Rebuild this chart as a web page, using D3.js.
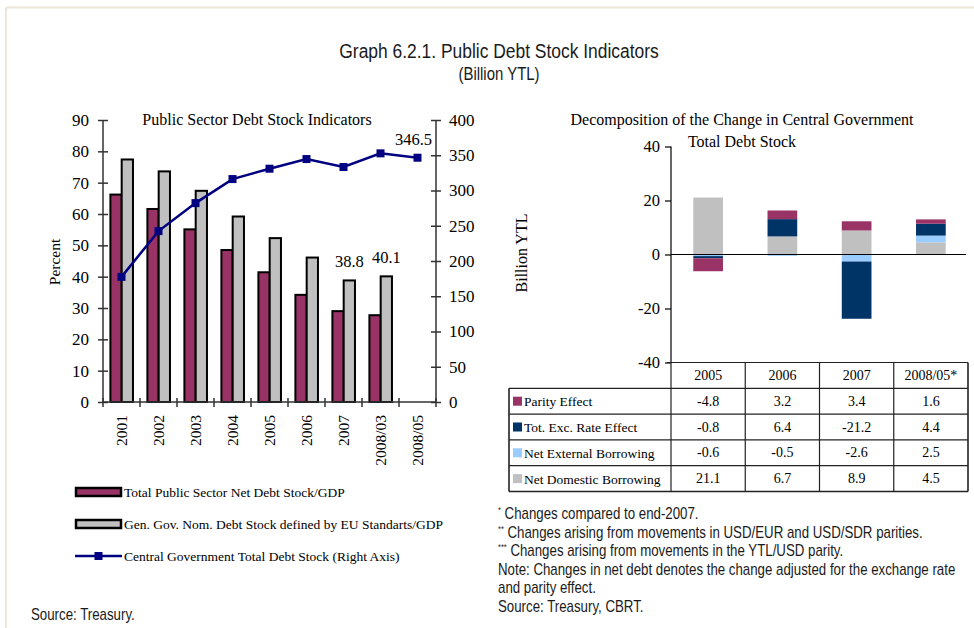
<!DOCTYPE html>
<html>
<head>
<meta charset="utf-8">
<script src="https://cdn.jsdelivr.net/npm/d3@7"></script>
<style>
  html, body { margin: 0; padding: 0; background: #fff; }
  svg { display: block; }
  .serif { font-family: "Liberation Serif", "Times New Roman", serif; fill: #000; }
  .sans { font-family: "Liberation Sans", Arial, sans-serif; fill: #1a1a1a; }
</style>
</head>
<body>
<svg id="chart" width="974" height="628"></svg>
<script>
// ---- Left panel: public sector debt stock indicators ----
const years = ["2001", "2002", "2003", "2004", "2005", "2006", "2007", "2008/03", "2008/05"];
const netDebtGdp = [66.2, 61.6, 55.1, 48.5, 41.4, 34.2, 29.0, 27.7, null];
const euDebtGdp = [77.4, 73.6, 67.4, 59.2, 52.3, 46.1, 38.8, 40.1, null];
const centralDebt = [177.5, 242.4, 282.1, 316.2, 330.9, 344.6, 333.3, 352.7, 346.5];
const percentTicks = [0, 10, 20, 30, 40, 50, 60, 70, 80, 90];
const ytlTicks = [0, 50, 100, 150, 200, 250, 300, 350, 400];
const leftLegend = [
  "Total Public Sector Net Debt Stock/GDP",
  "Gen. Gov. Nom. Debt Stock defined by EU Standarts/GDP",
  "Central Government Total Debt Stock (Right Axis)"
];

// ---- Right panel: decomposition of the change in central government debt ----
const periods = ["2005", "2006", "2007", "2008/05*"];
const seriesNames = ["Parity Effect", "Tot. Exc. Rate Effect", "Net External Borrowing", "Net Domestic Borrowing"];
const parityEffect = [-4.8, 3.2, 3.4, 1.6];
const excRateEffect = [-0.8, 6.4, -21.2, 4.4];
const netExternal = [-0.6, -0.5, -2.6, 2.5];
const netDomestic = [21.1, 6.7, 8.9, 4.5];
const changeTicks = [-40, -20, 0, 20, 40];

const notes = [
  ["*", " Changes compared to end-2007."],
  ["**", " Changes arising from movements in USD/EUR and USD/SDR parities."],
  ["***", " Changes arising from movements in the YTL/USD parity."],
  ["", "Note: Changes in net debt denotes the change adjusted for the exchange rate"],
  ["", "and parity effect."],
  ["", "Source: Treasury, CBRT."]
];

const colors = {
  maroon: "#993366",
  gray: "#c0c0c0",
  navy: "#000080",
  darkBlue: "#003366",
  lightBlue: "#99ccff"
};

const svg = d3.select("#chart");
const NARROW = 0.83; // horizontal squeeze for the condensed sans captions

// condensed sans text placed at (x, y)
function narrowText(parent, x, y, size, anchor) {
  return parent.append("text").attr("class", "sans")
    .attr("transform", `translate(${x},${y}) scale(${NARROW},1)`)
    .attr("text-anchor", anchor || "start")
    .style("font-size", size + "px");
}

// page frame
svg.append("line").attr("x1", 6).attr("x2", 974).attr("y1", 7.5).attr("y2", 7.5)
  .attr("stroke", "#ebe6d8").attr("stroke-width", 2);
svg.append("line").attr("x1", 6).attr("x2", 6).attr("y1", 7.5).attr("y2", 628)
  .attr("stroke", "#ebe6d8").attr("stroke-width", 2);

// headings
narrowText(svg, 499, 58, 21, "middle").text("Graph 6.2.1. Public Debt Stock Indicators");
narrowText(svg, 499, 80, 18, "middle").text("(Billion YTL)");

// =================== LEFT PANEL ===================
const L = { left: 103, right: 436, top: 120, bottom: 402 };
const xL = d3.scaleBand().domain(years).range([L.left, L.right]);
const xSub = d3.scaleBand().domain(["net", "eu"])
  .range([xL.bandwidth() * 0.2, xL.bandwidth() * 0.81]);
const yPct = d3.scaleLinear().domain([0, 90]).range([L.bottom, L.top]);
const yYtl = d3.scaleLinear().domain([0, 400]).range([L.bottom, L.top]);

const gL = svg.append("g");

gL.append("text").attr("class", "serif").attr("x", 257).attr("y", 125)
  .attr("text-anchor", "middle").style("font-size", "16px")
  .text("Public Sector Debt Stock Indicators");

// bars
const barData = years.map((y, i) => ({ year: y, net: netDebtGdp[i], eu: euDebtGdp[i] }));
const barGroups = gL.selectAll("g.bar").data(barData).join("g")
  .attr("class", "bar").attr("transform", d => `translate(${xL(d.year)},0)`);
barGroups.each(function (d) {
  const g = d3.select(this);
  [["net", colors.maroon], ["eu", colors.gray]].forEach(([k, c]) => {
    if (d[k] == null) return;
    g.append("rect")
      .attr("x", xSub(k)).attr("width", xSub.bandwidth())
      .attr("y", yPct(d[k])).attr("height", yPct(0) - yPct(d[k]))
      .attr("fill", c).attr("stroke", "#000").attr("stroke-width", 2);
  });
});

// value labels on the last two EU bars
[6, 7].forEach(i => {
  gL.append("text").attr("class", "serif")
    .attr("x", xL(years[i]) + xSub("eu") + xSub.bandwidth() / 2)
    .attr("y", yPct(euDebtGdp[i]) - 13)
    .attr("text-anchor", "middle").style("font-size", "16.5px")
    .text(euDebtGdp[i].toFixed(1));
});

// left axis
const axL = gL.append("g").attr("transform", `translate(${L.left},0)`)
  .call(d3.axisLeft(yPct).tickValues(percentTicks).tickFormat(d => String(d)).tickSize(5).tickPadding(9));
axL.select(".domain").remove();
axL.append("line").attr("y1", L.top).attr("y2", L.bottom).attr("stroke", "#333").attr("stroke-width", 1.5);
axL.selectAll(".tick line").attr("x1", 5).attr("stroke", "#333").attr("stroke-width", 1.5);
axL.selectAll(".tick text").attr("class", "serif").style("font-size", "17px").attr("font-family", null);

// right axis
const axR = gL.append("g").attr("transform", `translate(${L.right},0)`)
  .call(d3.axisRight(yYtl).tickValues(ytlTicks).tickFormat(d => String(d)).tickSize(5).tickPadding(8));
axR.select(".domain").remove();
axR.append("line").attr("y1", L.top).attr("y2", L.bottom).attr("stroke", "#333").attr("stroke-width", 1.5);
axR.selectAll(".tick line").attr("x1", -5).attr("stroke", "#333").attr("stroke-width", 1.5);
axR.selectAll(".tick text").attr("class", "serif").style("font-size", "17px").attr("font-family", null);

// category axis: ticks at band edges, labels rotated
const edges = years.map(y => xL(y)).concat([L.right]);
const axB = gL.append("g");
axB.append("line").attr("x1", L.left).attr("x2", L.right).attr("y1", L.bottom).attr("y2", L.bottom)
  .attr("stroke", "#333").attr("stroke-width", 1.5);
axB.selectAll("line.edge").data(edges).join("line").attr("class", "edge")
  .attr("x1", d => d).attr("x2", d => d).attr("y1", L.bottom - 4).attr("y2", L.bottom + 5)
  .attr("stroke", "#333").attr("stroke-width", 1.5);
axB.selectAll("text").data(years).join("text").attr("class", "serif")
  .attr("transform", d => `translate(${xL(d) + xL.bandwidth() / 2 + 5.5},${L.bottom + 13}) rotate(-90)`)
  .attr("text-anchor", "end").style("font-size", "15.5px")
  .text(d => d);

gL.append("text").attr("class", "serif")
  .attr("transform", `translate(60,262) rotate(-90)`)
  .attr("text-anchor", "middle").style("font-size", "15.5px").text("Percent");

// central government debt line
const linePts = years.map((y, i) => ({ year: y, v: centralDebt[i] }));
gL.append("path").datum(linePts)
  .attr("d", d3.line().x(d => xL(d.year) + xL.bandwidth() / 2).y(d => yYtl(d.v)))
  .attr("fill", "none").attr("stroke", colors.navy).attr("stroke-width", 2.5);
gL.selectAll("rect.pt").data(linePts).join("rect").attr("class", "pt")
  .attr("x", d => xL(d.year) + xL.bandwidth() / 2 - 4).attr("y", d => yYtl(d.v) - 4)
  .attr("width", 8).attr("height", 8).attr("fill", colors.navy);
gL.append("text").attr("class", "serif")
  .attr("x", xL(years[8]) + xL.bandwidth() / 2 - 4).attr("y", yYtl(centralDebt[8]) - 13)
  .attr("text-anchor", "middle").style("font-size", "16.5px")
  .text(centralDebt[8].toFixed(1));

// legend
const legY = [492, 524, 556];
const legG = gL.append("g");
[colors.maroon, colors.gray].forEach((c, i) => {
  legG.append("rect").attr("x", 76).attr("y", legY[i] - 4).attr("width", 45).attr("height", 8)
    .attr("fill", c).attr("stroke", "#000").attr("stroke-width", 2.5);
});
legG.append("line").attr("x1", 75).attr("x2", 122).attr("y1", legY[2]).attr("y2", legY[2])
  .attr("stroke", colors.navy).attr("stroke-width", 2.5);
legG.append("rect").attr("x", 94.5).attr("y", legY[2] - 4).attr("width", 8).attr("height", 8)
  .attr("fill", colors.navy);
legG.selectAll("text").data(leftLegend).join("text").attr("class", "serif")
  .attr("x", 124).attr("y", (d, i) => legY[i] + 5).style("font-size", "13.5px").text(d => d);

narrowText(svg, 31, 620, 16).text("Source: Treasury.");

// =================== RIGHT PANEL ===================
const R = { left: 671, right: 968, top: 146.5, bottom: 362.5 };
const xR = d3.scaleBand().domain(periods).range([R.left, R.right]);
const xBar = d3.scaleBand().domain(periods).range([R.left, R.right]).paddingInner(0.6).paddingOuter(0.3);
const yChg = d3.scaleLinear().domain([-40, 40]).range([R.bottom, R.top]);

const gR = svg.append("g");
gR.append("text").attr("class", "serif").attr("x", 742).attr("y", 125)
  .attr("text-anchor", "middle").style("font-size", "16px")
  .text("Decomposition of the Change in Central Government");
gR.append("text").attr("class", "serif").attr("x", 742).attr("y", 147)
  .attr("text-anchor", "middle").style("font-size", "16px").text("Total Debt Stock");

// stacked bars, positives above zero, negatives below
const seriesValues = [parityEffect, excRateEffect, netExternal, netDomestic];
const seriesColors = [colors.maroon, colors.darkBlue, colors.lightBlue, colors.gray];
const rows = periods.map((p, i) => {
  const r = { period: p };
  seriesNames.forEach((s, j) => { r[s] = seriesValues[j][i]; });
  return r;
});
const stackKeys = ["Net Domestic Borrowing", "Net External Borrowing", "Tot. Exc. Rate Effect", "Parity Effect"];
const stacked = d3.stack().keys(stackKeys).offset(d3.stackOffsetDiverging)(rows);
gR.selectAll("g.layer").data(stacked).join("g").attr("class", "layer")
  .attr("fill", d => seriesColors[seriesNames.indexOf(d.key)])
  .selectAll("rect").data(d => d).join("rect")
  .attr("x", d => xBar(d.data.period)).attr("width", xBar.bandwidth())
  .attr("y", d => yChg(Math.max(d[0], d[1])))
  .attr("height", d => Math.abs(yChg(d[0]) - yChg(d[1])));

// zero line
gR.append("line").attr("x1", R.left).attr("x2", R.right - 2).attr("y1", yChg(0)).attr("y2", yChg(0))
  .attr("stroke", "#000").attr("stroke-width", 1.2);

// value axis
const axC = gR.append("g").attr("transform", `translate(${R.left},0)`)
  .call(d3.axisLeft(yChg).tickValues(changeTicks).tickFormat(d => String(d)).tickSize(6).tickPadding(5));
axC.select(".domain").remove();
axC.append("line").attr("y1", R.top).attr("y2", R.bottom).attr("stroke", "#000").attr("stroke-width", 1.2);
axC.selectAll(".tick line").attr("stroke", "#000").attr("stroke-width", 1.2);
axC.selectAll(".tick text").attr("class", "serif").style("font-size", "16.5px").attr("font-family", null);

gR.append("text").attr("class", "serif")
  .attr("transform", `translate(527,253) rotate(-90)`)
  .attr("text-anchor", "middle").style("font-size", "16px").text("Billion YTL");

// data table under the chart
const tableRows = ["header"].concat(seriesNames);
const yRow = d3.scaleBand().domain(tableRows).range([R.bottom, 491.5]);
const tableLeft = 509;
const tG = gR.append("g");
const lineStyle = sel => sel.attr("stroke", "#222").attr("stroke-width", 1.2);

// horizontal rules
tG.append("line").attr("x1", R.left - 4).attr("x2", R.right).attr("y1", R.bottom).attr("y2", R.bottom).call(lineStyle);
seriesNames.forEach(s => {
  tG.append("line").attr("x1", tableLeft).attr("x2", R.right)
    .attr("y1", yRow(s)).attr("y2", yRow(s)).call(lineStyle);
});
tG.append("line").attr("x1", tableLeft).attr("x2", R.right)
  .attr("y1", yRow.range()[1]).attr("y2", yRow.range()[1]).call(lineStyle).attr("stroke-width", 1.6);
// vertical rules
periods.forEach(p => {
  tG.append("line").attr("x1", xR(p)).attr("x2", xR(p))
    .attr("y1", R.bottom).attr("y2", yRow.range()[1]).call(lineStyle);
});
tG.append("line").attr("x1", R.right).attr("x2", R.right)
  .attr("y1", R.bottom).attr("y2", yRow.range()[1]).call(lineStyle).attr("stroke-width", 1.6);
tG.append("line").attr("x1", tableLeft).attr("x2", tableLeft)
  .attr("y1", yRow(seriesNames[0])).attr("y2", yRow.range()[1]).call(lineStyle).attr("stroke-width", 1.6);

// header cells
tG.selectAll("text.hdr").data(periods).join("text").attr("class", "serif hdr")
  .attr("x", d => xR(d) + xR.bandwidth() / 2).attr("y", yRow("header") + yRow.bandwidth() / 2 + 5)
  .attr("text-anchor", "middle").style("font-size", "14px").text(d => d);

// series rows
seriesNames.forEach((s, j) => {
  const cy = yRow(s) + yRow.bandwidth() / 2;
  tG.append("rect").attr("x", 513).attr("y", cy - 4.5).attr("width", 9).attr("height", 9)
    .attr("fill", seriesColors[j]);
  tG.append("text").attr("class", "serif").attr("x", 524).attr("y", cy + 5)
    .style("font-size", "13.5px").text(s);
  tG.selectAll(null).data(periods).join("text").attr("class", "serif")
    .attr("x", p => xR(p) + xR.bandwidth() / 2).attr("y", cy + 4.5)
    .attr("text-anchor", "middle").style("font-size", "14px")
    .text((p, i) => seriesValues[j][i].toFixed(1));
});

// footnotes
const noteG = svg.append("g");
notes.forEach(([mark, txt], i) => {
  const t = narrowText(noteG, 498, 519 + i * 18.5, 16);
  if (mark) t.append("tspan").style("font-size", "9px").attr("dy", -6).text(mark);
  t.append("tspan").attr("dy", mark ? 6 : 0).text(txt);
});
</script>
</body>
</html>
